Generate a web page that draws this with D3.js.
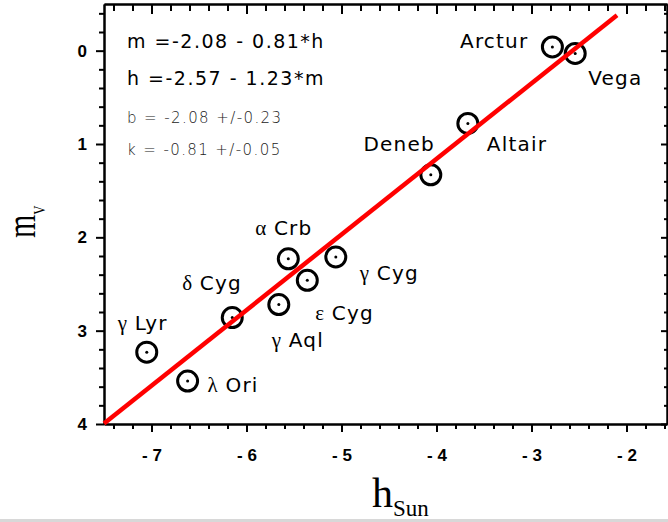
<!DOCTYPE html>
<html>
<head>
<meta charset="utf-8">
<title>m_V vs h_Sun</title>
<script src="https://d3js.org/d3.v7.min.js"></script>
<style>
  body { margin: 0; background: #fff; }
  svg { display: block; }
  .axis path, .axis line { stroke: #000; stroke-width: 2; }
  .axis text { font-family: "Liberation Sans", Arial, sans-serif; font-weight: bold; font-size: 17px; fill: #000; }
</style>
</head>
<body>
<svg id="chart" width="668" height="522"></svg>
<script>
// star data
const starNames = ["Arctur", "Vega", "Altair", "Deneb", "α Crb", "γ Cyg", "ε Cyg", "γ Aql", "δ Cyg", "γ Lyr", "λ Ori"];
const hSun = [-2.78, -2.54, -3.67, -4.06, -5.56, -5.06, -5.36, -5.66, -6.15, -7.05, -6.62];
const mV = [-0.04, 0.03, 0.78, 1.33, 2.23, 2.21, 2.46, 2.72, 2.86, 3.23, 3.54];

// linear fit m = b + k*h
const fitB = -2.08;
const fitK = -0.81;
const fitHRange = [-7.5, -2.1];

const xTicks = [-7, -6, -5, -4, -3, -2];
const yTicks = [0, 1, 2, 3, 4];
const fitText = ["m =-2.08 - 0.81*h", "h =-2.57 - 1.23*m"];
const errText = ["b = -2.08 +/-0.23", "k = -0.81 +/-0.05"];

// where each label sits relative to its circle: [dx, dy, anchor]
const labelPos = {
  "Arctur": [-24, 1, "end"],
  "Vega": [13, 32, "start"],
  "Altair": [19, 28, "start"],
  "Deneb": [4, -24, "end"],
  "α Crb": [-33, -24, "start"],
  "γ Cyg": [24, 23, "start"],
  "ε Cyg": [8, 40, "start"],
  "γ Aql": [-7, 42, "start"],
  "δ Cyg": [-50, -28, "start"],
  "γ Lyr": [-29, -22, "start"],
  "λ Ori": [20, 11, "start"]
};

const svg = d3.select("#chart");
const plotL = 104, plotR = 667, plotT = 4, plotB = 424;

const x = d3.scaleLinear().domain([-7.5, -7.5 + (plotR - plotL) / 95]).range([plotL, plotR]);
const y = d3.scaleLinear().domain([-0.5, 4]).range([plotT, plotB]);

// minor ticks every 0.2
const xMinor = d3.range(-7.4, x.domain()[1], 0.2).map(v => +v.toFixed(1)).filter(v => !xTicks.includes(v));
const yMinor = d3.range(-0.4, 4, 0.2).map(v => +v.toFixed(1)).filter(v => !yTicks.includes(v));

function addAxis(axisFn, scale, major, minor, tr, majLen, minLen, fmt) {
  svg.append("g").attr("class", "axis").attr("transform", tr)
    .call(axisFn(scale).tickValues(minor).tickSize(minLen).tickSizeOuter(0).tickFormat(""));
  const g = svg.append("g").attr("class", "axis").attr("transform", tr)
    .call(axisFn(scale).tickValues(major).tickSize(majLen).tickSizeOuter(0).tickFormat(fmt));
  return g;
}

addAxis(d3.axisBottom, x, xTicks, xMinor, "translate(0," + plotB + ")", 8, 5, d => "- " + Math.abs(d))
  .call(g => g.selectAll("text").attr("y", 25));
addAxis(d3.axisTop, x, xTicks, xMinor, "translate(0," + plotT + ")", -10, -7, "");
addAxis(d3.axisLeft, y, yTicks, yMinor, "translate(" + plotL + ",0)", 8, 5, d3.format("d"))
  .call(g => g.selectAll("text").attr("x", -17));
addAxis(d3.axisRight, y, yTicks, yMinor, "translate(" + plotR + ",0)", -6, -3, "");

// fit line info
const notes = svg.append("g").attr("fill", "#000");
fitText.forEach((t, i) => {
  notes.append("text").attr("x", 127).attr("y", 48 + i * 37)
    .attr("font-family", "DejaVu Sans, Verdana, sans-serif").attr("font-size", 19)
    .attr("letter-spacing", 1.5).text(t);
});
errText.forEach((t, i) => {
  notes.append("text").attr("x", 127).attr("y", 123 + i * 32)
    .attr("font-family", "DejaVu Sans, Verdana, sans-serif").attr("font-size", 15)
    .attr("font-weight", 200).attr("fill", "#222")
    .attr("letter-spacing", 1.4).text(t);
});

// stars
const stars = starNames.map((n, i) => ({ name: n, h: hSun[i], m: mV[i] }));
const pts = svg.append("g").selectAll("g").data(stars).join("g")
  .attr("transform", d => "translate(" + x(d.h) + "," + y(d.m) + ")");
pts.append("circle").attr("r", 10).attr("fill", "none").attr("stroke", "#000").attr("stroke-width", 3);
pts.append("circle").attr("r", 1.5).attr("fill", "#000");

const lab = pts.append("text")
  .attr("x", d => labelPos[d.name][0]).attr("y", d => labelPos[d.name][1])
  .attr("text-anchor", d => labelPos[d.name][2])
  .attr("font-family", "DejaVu Sans, sans-serif").attr("font-size", 20)
  .attr("letter-spacing", 1.2).attr("fill", "#000");
lab.each(function(d) {
  const t = d3.select(this);
  if (/^[α-ω]/.test(d.name)) {
    const parts = d.name.split(" ");
    t.append("tspan").attr("font-family", "Liberation Serif, serif").attr("font-size", 21).text(parts[0] + " ");
    t.append("tspan").text(parts[1]);
  } else {
    t.text(d.name);
  }
});

// red regression line
svg.append("path")
  .datum(fitHRange)
  .attr("d", d3.line().x(h => x(h)).y(h => y(fitB + fitK * h)))
  .attr("stroke", "#ff0000").attr("stroke-width", 4.5).attr("fill", "none");

// axis titles
const xt = svg.append("text").attr("x", 372).attr("y", 507)
  .attr("font-family", "Liberation Serif, Times New Roman, serif").attr("font-size", 42);
xt.append("tspan").text("h");
xt.append("tspan").attr("font-size", 23).attr("dy", 9).text("Sun");

const yt = svg.append("text").attr("transform", "translate(35,238) rotate(-90) scale(0.75,1)")
  .attr("font-family", "Liberation Serif, Times New Roman, serif").attr("font-size", 40);
yt.append("tspan").text("m");
yt.append("tspan").attr("font-size", 17).attr("dy", 10).text("V");

// window edge at the bottom of the shot
svg.append("rect").attr("x", 0).attr("y", 519).attr("width", 668).attr("height", 3).attr("fill", "#d8d8d8");
</script>
</body>
</html>
